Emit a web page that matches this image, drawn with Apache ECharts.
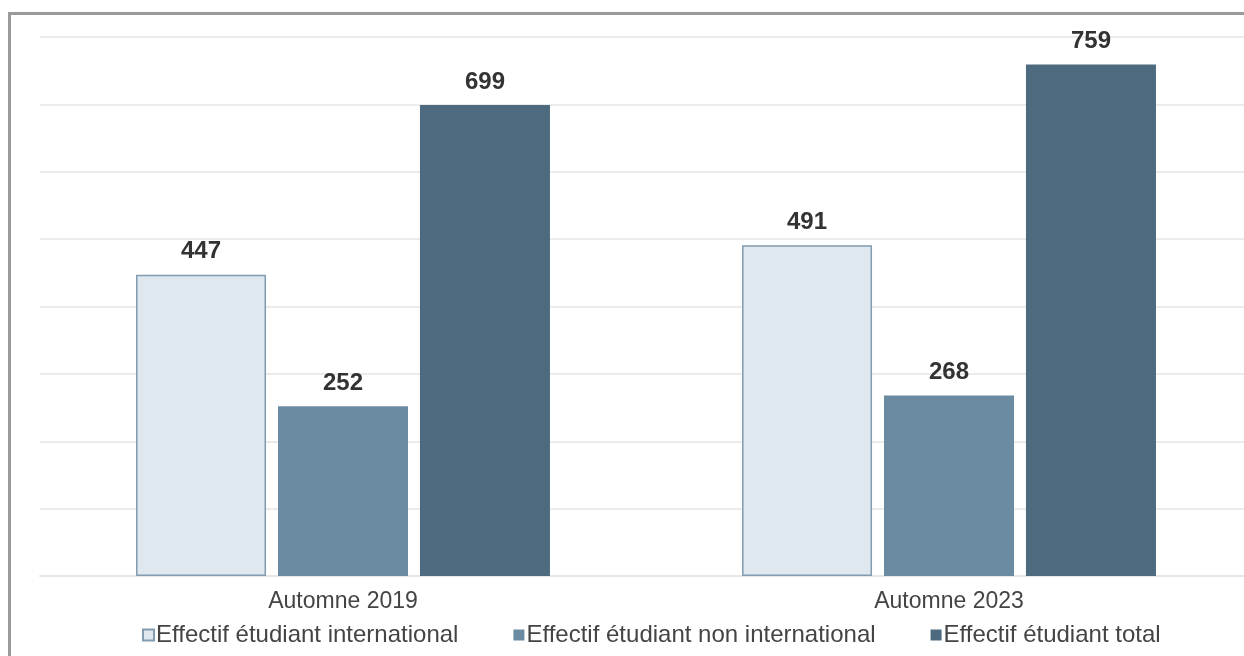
<!DOCTYPE html>
<html><head><meta charset="utf-8">
<script src="https://cdn.jsdelivr.net/npm/echarts@6/dist/echarts.min.js"></script>
<style>html,body{margin:0;padding:0;background:#fff}#c{width:1244px;height:656px}</style>
</head><body><div id="c"></div>
<script>
const categories = ['Automne 2019', 'Automne 2023'];
const seriesNames = ['Effectif étudiant international', 'Effectif étudiant non international', 'Effectif étudiant total'];
const international = [447, 491];
const nonInternational = [252, 268];
const total = [699, 759];

const chart = echarts.init(document.getElementById('c'));
const labelStyle = {show: true, position: 'top', distance: 11, fontFamily: 'Liberation Sans, Arial, sans-serif', fontSize: 24, fontWeight: 'bold', color: '#333'};
chart.setOption({
  animation: false,
  textStyle: {fontFamily: 'Liberation Sans, Arial, sans-serif'},
  grid: {left: 40, width: 1212, top: 37, bottom: 80, outerBoundsMode: 'none', containLabel: false},
  legend: {
    left: 137, top: 618, icon: 'rect', itemWidth: 11, itemHeight: 11, itemGap: 55,
    textStyle: {fontSize: 24, color: '#444', padding: [0, 0, 0, -3]},
    data: seriesNames
  },
  xAxis: {
    type: 'category', data: categories,
    axisLine: {show: true, lineStyle: {color: '#e6e6e6', width: 2}},
    axisTick: {show: false},
    axisLabel: {fontSize: 23, color: '#444', margin: 14}
  },
  yAxis: {
    type: 'value', min: 0, max: 800, interval: 100,
    axisLabel: {show: false}, axisLine: {show: false}, axisTick: {show: false},
    splitLine: {lineStyle: {color: '#ebebeb', width: 2}}
  },
  series: [
    {name: seriesNames[0], type: 'bar', data: international, barWidth: 130, barGap: '9.2%',
      itemStyle: {color: '#dfe7ef', borderColor: '#819cb0', borderWidth: 1.5}, label: labelStyle},
    {name: seriesNames[1], type: 'bar', data: nonInternational, barWidth: 130, barGap: '9.2%',
      itemStyle: {color: '#6a8ba2'}, label: labelStyle},
    {name: seriesNames[2], type: 'bar', data: total, barWidth: 130, barGap: '9.2%',
      itemStyle: {color: '#4d6a7e'}, label: labelStyle}
  ],
  graphic: [{
    type: 'polyline', silent: true,
    shape: {points: [[9.5, 700], [9.5, 13.5], [1300, 13.5]]},
    style: {stroke: '#9a9a9a', lineWidth: 3, fill: null}
  }]
});
</script></body></html>
